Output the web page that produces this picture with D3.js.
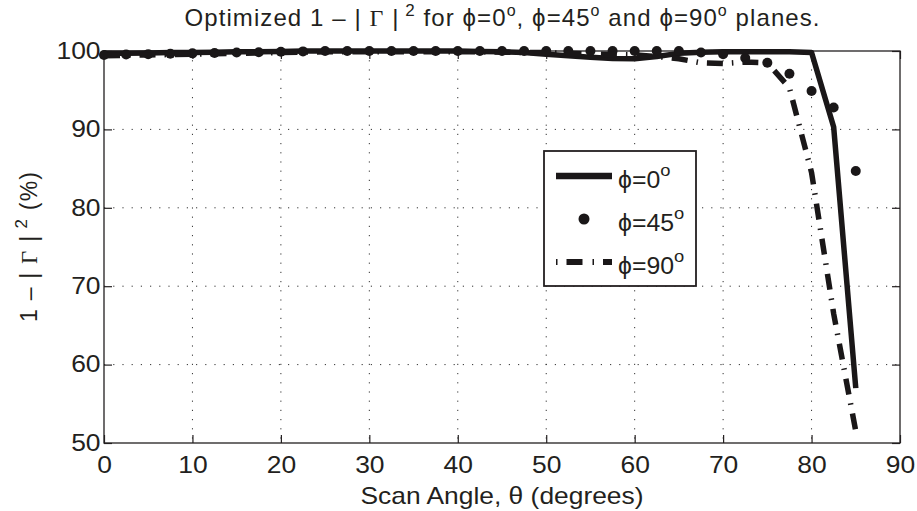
<!DOCTYPE html>
<html>
<head>
<meta charset="utf-8">
<script src="https://cdn.jsdelivr.net/npm/d3@7"></script>
<style>
  body { margin: 0; background: #fff; }
  text { font-family: "Liberation Sans", Arial, sans-serif; fill: #231f20; }
</style>
</head>
<body>
<div id="chart"></div>
<script>
// scan angles (degrees)
var angles = [0, 2.5, 5, 7.5, 10, 12.5, 15, 17.5, 20, 22.5, 25, 27.5, 30, 32.5, 35, 37.5, 40,
	42.5, 45, 47.5, 50, 52.5, 55, 57.5, 60, 62.5, 65, 67.5, 70, 72.5, 75, 77.5, 80, 82.5, 85];

// 1 - |Gamma|^2 (%) per plane
var phi0 = [99.7, 99.7, 99.75, 99.8, 99.8, 99.85, 99.9, 99.9, 99.95, 100, 100, 100, 100, 100, 100, 100, 100,
	99.95, 99.9, 99.8, 99.6, 99.4, 99.2, 99.05, 99.0, 99.3, 99.7, 99.85, 99.9, 99.9, 99.9, 99.9, 99.8, 90.3, 57.0];
var phi45 = [99.5, 99.55, 99.6, 99.65, 99.7, 99.75, 99.8, 99.85, 99.9, 99.95, 100, 100, 100, 100, 100, 100, 100,
	100, 100, 100, 100, 100, 100, 100, 100, 100, 100, 99.8, 99.6, 99.1, 98.5, 97.1, 94.9, 92.8, 84.7];
var phi90 = [99.4, 99.45, 99.5, 99.55, 99.6, 99.65, 99.7, 99.75, 99.8, 99.85, 99.9, 99.9, 99.9, 99.9, 99.9, 99.9, 99.9,
	99.9, 99.85, 99.8, 99.8, 99.7, 99.6, 99.55, 99.5, 99.3, 99.0, 98.5, 98.4, 98.6, 98.5, 95.3, 84.5, 66.5, 51.5];

var xTicks = [0, 10, 20, 30, 40, 50, 60, 70, 80, 90];
var yTicks = [50, 60, 70, 80, 90, 100];

var W = 917, H = 511;
var margin = { left:104, right:17, top:51, bottom:68 };
var width = W - margin.left - margin.right,
	height = H - margin.top - margin.bottom;
var sx = 1.15; // tick labels in the source are a bit wide

var svg = d3.select("#chart")
	.append("svg")
	.attr("width", W)
	.attr("height", H);

var g = svg.append("g")
	.attr("transform", "translate(" + margin.left + "," + margin.top + ")");

var x = d3.scaleLinear().domain([0, 90]).range([0, width]);
var y = d3.scaleLinear().domain([50, 100]).range([height, 0]);

// dotted grid
g.selectAll(".gx").data(xTicks.slice(1, -1)).enter().append("line")
	.attr("x1", function(d){ return x(d); }).attr("x2", function(d){ return x(d); })
	.attr("y1", 0).attr("y2", height)
	.attr("stroke", "#333").attr("stroke-width", 1).attr("stroke-dasharray", "1.2,8");
g.selectAll(".gy").data(yTicks.slice(1, -1)).enter().append("line")
	.attr("y1", function(d){ return y(d); }).attr("y2", function(d){ return y(d); })
	.attr("x1", 0).attr("x2", width)
	.attr("stroke", "#333").attr("stroke-width", 1).attr("stroke-dasharray", "1.2,8");

// axes, ticks pointing inward
function styleAxis(sel){
	sel.select(".domain").remove();
	sel.selectAll("line").attr("stroke", "#231f20").attr("stroke-width", 1.2);
	sel.selectAll("text").attr("font-size", "23px").attr("fill", "#231f20")
		.attr("transform", "scale(" + sx + ",1)");
}
var xb = g.append("g").attr("transform", "translate(0," + height + ")")
	.call(d3.axisBottom(x).tickValues(xTicks).tickSizeInner(-8).tickSizeOuter(0).tickPadding(14));
styleAxis(xb);
var xt = g.append("g")
	.call(d3.axisTop(x).tickValues(xTicks).tickSizeInner(-8).tickSizeOuter(0).tickFormat(""));
styleAxis(xt);
var yl = g.append("g")
	.call(d3.axisLeft(y).tickValues(yTicks).tickSizeInner(-8).tickSizeOuter(0).tickPadding(3));
styleAxis(yl);
var yr = g.append("g").attr("transform", "translate(" + width + ",0)")
	.call(d3.axisRight(y).tickValues(yTicks).tickSizeInner(-8).tickSizeOuter(0).tickFormat(""));
styleAxis(yr);

g.append("rect")
	.attr("width", width).attr("height", height)
	.attr("fill", "none").attr("stroke", "#231f20").attr("stroke-width", 1.3);

// series
var line = d3.line()
	.x(function(d){ return x(d[0]); })
	.y(function(d){ return y(d[1]); });

g.append("path")
	.datum(d3.zip(angles, phi0))
	.attr("d", line)
	.attr("fill", "none").attr("stroke", "#1a1718").attr("stroke-width", 5.5)
	.attr("stroke-linejoin", "round");

g.selectAll(".dot")
	.data(d3.zip(angles, phi45))
	.enter().append("circle")
	.attr("cx", function(d){ return x(d[0]); })
	.attr("cy", function(d){ return y(d[1]); })
	.attr("r", 5)
	.attr("fill", "#1a1718");

g.append("path")
	.datum(d3.zip(angles, phi90))
	.attr("d", line)
	.attr("fill", "none").attr("stroke", "#1a1718").attr("stroke-width", 5.5)
	.attr("stroke-dasharray", "16,9,1.5,9");

// legend
var lg = svg.append("g").attr("transform", "translate(544,151)");
lg.append("rect").attr("width", 152).attr("height", 135)
	.attr("fill", "#fff").attr("stroke", "#231f20").attr("stroke-width", 1.8);
var entries = ["0", "45", "90"];
var ly = [25, 68, 111];
lg.append("line").attr("x1", 12).attr("x2", 68).attr("y1", ly[0]).attr("y2", ly[0])
	.attr("stroke", "#1a1718").attr("stroke-width", 6.5);
lg.append("circle").attr("cx", 40).attr("cy", ly[1]).attr("r", 5.5).attr("fill", "#1a1718");
lg.append("line").attr("x1", 12).attr("x2", 68).attr("y1", ly[2]).attr("y2", ly[2])
	.attr("stroke", "#1a1718").attr("stroke-width", 6).attr("stroke-dasharray", "1.5,9,16,10");
entries.forEach(function(e, i){
	var t = lg.append("text")
		.attr("transform", "translate(74," + (ly[i] + 12) + ") scale(1.08,1)")
		.attr("font-size", "23px");
	t.append("tspan").text("\u03d5=" + e);
	t.append("tspan").attr("font-size", "17px").attr("dy", -12).text("o");
});

// title
var title = svg.append("text")
	.attr("x", margin.left + width / 2).attr("y", 26)
	.attr("text-anchor", "middle")
	.attr("font-size", "24px")
	.attr("textLength", 635)
	.attr("lengthAdjust", "spacing");
title.append("tspan").text("Optimized 1 \u2013 | ");
title.append("tspan").attr("font-family", "Liberation Serif, serif").text("\u0393");
title.append("tspan").text(" |");
title.append("tspan").attr("font-size", "17px").attr("dy", -10).text(" 2");
title.append("tspan").attr("dy", 10).text(" for \u03d5=0");
title.append("tspan").attr("font-size", "16px").attr("dy", -10).text("o");
title.append("tspan").attr("dy", 10).text(", \u03d5=45");
title.append("tspan").attr("font-size", "16px").attr("dy", -10).text("o");
title.append("tspan").attr("dy", 10).text(" and \u03d5=90");
title.append("tspan").attr("font-size", "16px").attr("dy", -10).text("o");
title.append("tspan").attr("dy", 10).text(" planes.");

// x label
svg.append("text")
	.attr("x", margin.left + width / 2).attr("y", 504)
	.attr("text-anchor", "middle")
	.attr("font-size", "24px")
	.attr("textLength", 283)
	.attr("lengthAdjust", "spacingAndGlyphs")
	.text("Scan Angle, \u03b8 (degrees)");

// y label
var ylab = svg.append("text")
	.attr("transform", "translate(37," + (margin.top + height / 2) + ") rotate(-90)")
	.attr("text-anchor", "middle")
	.attr("font-size", "23px")
	.attr("textLength", 150)
	.attr("lengthAdjust", "spacing");
ylab.append("tspan").text("1 \u2013 | ");
ylab.append("tspan").attr("font-family", "Liberation Serif, serif").text("\u0393");
ylab.append("tspan").text(" |");
ylab.append("tspan").attr("font-size", "17px").attr("dy", -10).text(" 2");
ylab.append("tspan").attr("dy", 10).text(" (%)");
</script>
</body>
</html>
